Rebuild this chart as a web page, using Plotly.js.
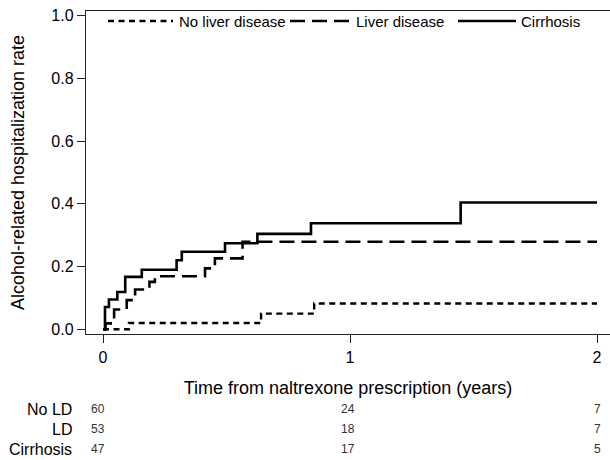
<!DOCTYPE html>
<html>
<head>
<meta charset="utf-8">
<script src="https://cdn.plot.ly/plotly-3.0.1.min.js"></script>
<style>html,body{margin:0;padding:0;background:#fff;}#chart{width:610px;height:460px;}</style>
</head>
<body>
<div id="chart"></div>
<script>
// ---- Data ----
const seriesNames = ['No liver disease', 'Liver disease', 'Cirrhosis'];
const noLDTime = [0, 0.105, 0.64, 0.855, 2.0];
const noLDRate = [0, 0.02, 0.05, 0.082, 0.082];
const ldTime = [0, 0.01, 0.045, 0.096, 0.13, 0.188, 0.21, 0.413, 0.453, 0.565, 2.0];
const ldRate = [0, 0.019, 0.063, 0.093, 0.127, 0.151, 0.169, 0.194, 0.226, 0.279, 0.279];
const cirTime = [0, 0.008, 0.024, 0.058, 0.09, 0.157, 0.298, 0.319, 0.494, 0.625, 0.842, 1.448, 2.0];
const cirRate = [0, 0.071, 0.095, 0.119, 0.167, 0.19, 0.22, 0.247, 0.274, 0.304, 0.338, 0.404, 0.404];

const xTicks = [0, 1, 2];
const yTicks = [0, 0.2, 0.4, 0.6, 0.8, 1.0];
const yTickLabels = ['0.0', '0.2', '0.4', '0.6', '0.8', '1.0'];

const riskTimes = [0, 1, 2];
const riskRowLabels = ['No LD', 'LD', 'Cirrhosis'];
const riskNoLD = [60, 24, 7];
const riskLD = [53, 18, 7];
const riskCir = [47, 17, 5];

// ---- Styles ----
const FONT = 'Liberation Sans, Arial, sans-serif';
const dashes = ['6px,4.5px', '15px,7px', 'solid'];
const widths = [2.4, 2.6, 2.6];

// plot area in pixels: left 86, right 610, top 11, bottom 334
const L = 86, R = 610, T = 11, B = 334;
const px2x = p => (p - L) / (R - L);
const py2y = p => (B - p) / (B - T);

const traces = [
  [noLDTime, noLDRate], [ldTime, ldRate], [cirTime, cirRate]
].map((d, i) => ({
  x: d[0], y: d[1], type: 'scatter', mode: 'lines', name: seriesNames[i],
  line: {shape: 'hv', color: '#000', width: widths[i], dash: dashes[i]},
  showlegend: false, hoverinfo: 'skip'
}));

// legend drawn as shapes + text
const legendY = py2y(21);
const legendItems = [
  {x0: 108, x1: 173, tx: 177},
  {x0: 290, x1: 350, tx: 354},
  {x0: 458, x1: 516, tx: 519}
];
const shapes = legendItems.map((it, i) => ({
  type: 'line', xref: 'paper', yref: 'paper',
  x0: px2x(it.x0), x1: px2x(it.x1), y0: legendY, y1: legendY,
  line: {color: '#000', width: widths[i], dash: dashes[i]}
}));
const annotations = legendItems.map((it, i) => ({
  xref: 'paper', yref: 'paper', x: px2x(it.tx), y: legendY,
  xanchor: 'left', yanchor: 'middle', showarrow: false,
  text: seriesNames[i], font: {family: FONT, size: 15, color: '#000'}
}));

// risk table
const rowY = [409, 429, 449];
const riskData = [riskNoLD, riskLD, riskCir];
riskRowLabels.forEach((lab, r) => {
  annotations.push({
    xref: 'paper', yref: 'paper', x: px2x(74), y: py2y(rowY[r]),
    xanchor: 'right', yanchor: 'middle', showarrow: false,
    text: lab, font: {family: FONT, size: 16, color: '#000'}
  });
  riskTimes.forEach((t, c) => {
    annotations.push({
      xref: 'x', yref: 'paper', x: t, y: py2y(rowY[r]),
      xanchor: 'center', yanchor: 'middle', showarrow: false,
      xshift: c === 0 ? -5 : (c === 1 ? -2 : 0),
      text: String(riskData[r][c]), font: {family: FONT, size: 12, color: '#333'}
    });
  });
});

const x0px = 103, x1px = 350; // data 0 and 1
const pxPerX = x1px - x0px;
const y0px = 329.3, y1px = 15.5;
const pxPerY = y0px - y1px;

const layout = {
  width: 610, height: 460,
  margin: {l: L, r: 610 - R, t: T, b: 460 - B, pad: 0},
  paper_bgcolor: '#fff', plot_bgcolor: '#fff',
  font: {family: FONT, size: 16, color: '#000'},
  xaxis: {
    range: [(L - x0px) / pxPerX, (R - x0px) / pxPerX],
    tickvals: xTicks, ticktext: xTicks.map(String),
    ticks: 'outside', ticklen: 8, tickwidth: 1, tickcolor: '#222',
    showline: true, linecolor: '#222', linewidth: 1.2, mirror: true,
    showgrid: false, zeroline: false, ticklabelstandoff: 1,
    tickfont: {family: FONT, size: 16, color: '#000'},
    title: {text: 'Time from naltrexone prescription (years)', font: {family: FONT, size: 18, color: '#000'}, standoff: 16},
    automargin: false, fixedrange: true
  },
  yaxis: {
    range: [(y0px - B) / pxPerY, (y0px - T) / pxPerY],
    tickvals: yTicks, ticktext: yTickLabels,
    ticks: 'outside', ticklen: 8, tickwidth: 1, tickcolor: '#222',
    showline: true, linecolor: '#222', linewidth: 1.2, mirror: false,
    showgrid: false, zeroline: false,
    tickfont: {family: FONT, size: 16, color: '#000'},
    title: {text: 'Alcohol-related hospitalization rate', font: {family: FONT, size: 18, color: '#000'}, standoff: 22},
    automargin: false, fixedrange: true
  },
  shapes: shapes,
  annotations: annotations,
  showlegend: false
};

Plotly.newPlot('chart', traces, layout, {staticPlot: true, displayModeBar: false});
</script>
</body>
</html>
